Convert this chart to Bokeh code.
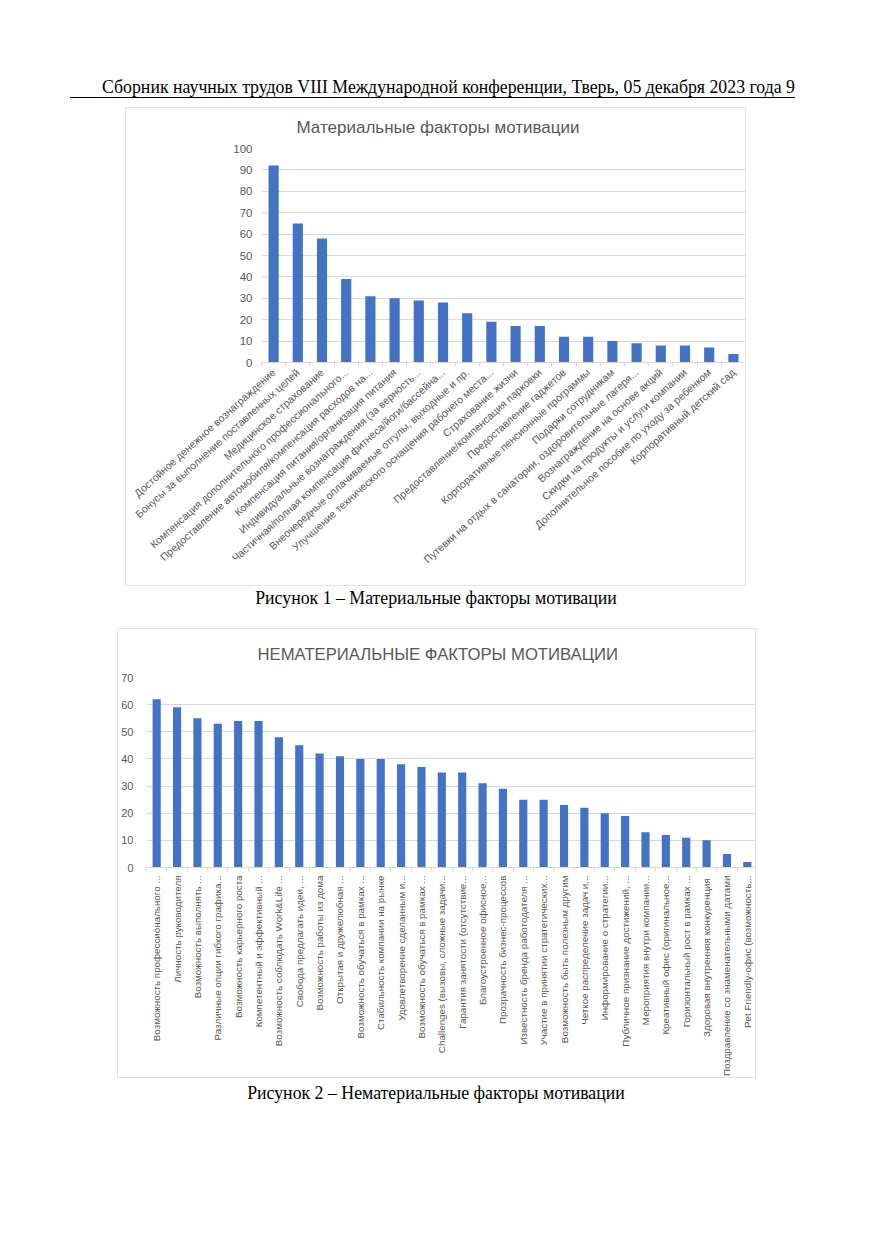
import math
from bokeh.plotting import figure
from bokeh.models import Div, Spacer, FixedTicker, Range1d, ColumnDataSource
from bokeh.layouts import column, row
from bokeh.embed import file_html
from bokeh.resources import INLINE

header_text = "Сборник научных трудов VIII Международной конференции, Тверь, 05 декабря 2023 года 9"
title1 = "Материальные факторы мотивации"
caption1 = "Рисунок 1 – Материальные факторы мотивации"
title2 = "НЕМАТЕРИАЛЬНЫЕ ФАКТОРЫ МОТИВАЦИИ"
caption2 = "Рисунок 2 – Нематериальные факторы мотивации"

material_labels = [
    "Достойное денежное вознаграждение",
    "Бонусы за выполнение поставленных целей",
    "Медицинское страхование",
    "Компенсация дополнительного профессионального...",
    "Предоставление автомобиля/компенсация расходов на...",
    "Компенсация питания/организация питания",
    "Индивидуальные вознаграждения (за верность...",
    "Частичная/полная компенсация фитнеса/йоги/бассейна...",
    "Внеочередные оплачиваемые отгулы, выходные и пр.",
    "Улучшение технического оснащения рабочего места...",
    "Страхование жизни",
    "Предоставление/компенсация парковки",
    "Предоставление гаджетов",
    "Корпоративные пенсионные программы",
    "Подарки сотрудникам",
    "Путевки на отдых в санатории, оздоровительные лагеря...",
    "Вознаграждение на основе акций",
    "Скидки на продукты и услуги компании",
    "Дополнительное пособие по уходу за ребенком",
    "Корпоративный детский сад",
]
material_values = [92, 65, 58, 39, 31, 30, 29, 28, 23, 19, 17, 17, 12, 12, 10, 9, 8, 8, 7, 4]
material_yticks = [0, 10, 20, 30, 40, 50, 60, 70, 80, 90, 100]

nonmaterial_labels = [
    "Возможность профессионального ...",
    "Личность руководителя",
    "Возможность выполнять ...",
    "Различные опции гибкого графика...",
    "Возможность карьерного роста",
    "Компетентный и эффективный ...",
    "Возможность соблюдать Work&Life ...",
    "Свобода предлагать идеи, ...",
    "Возможность работы из дома",
    "Открытая и дружелюбная ...",
    "Возможность обучаться в рамках ...",
    "Стабильность компании на рынке",
    "Удовлетворение сделанным и...",
    "Возможность обучаться в рамках ...",
    "Challenges (вызовы, сложные задачи...",
    "Гарантия занятости (отсутствие...",
    "Благоустроенное офисное...",
    "Прозрачность бизнес-процессов",
    "Известность бренда работодателя ...",
    "Участие в принятии стратегических...",
    "Возможность быть полезным другим",
    "Четкое распределение задач и...",
    "Информирование о стратегии...",
    "Публичное признание достижений, ...",
    "Мероприятия внутри компании...",
    "Креативный офис (оригинальное...",
    "Горизонтальный рост в рамках ...",
    "Здоровая внутренняя  конкуренция",
    "Поздравление со знаменательными датами",
    "Pet Friendly-офис (возможность...",
]
nonmaterial_values = [62, 59, 55, 53, 54, 54, 48, 45, 42, 41, 40, 40, 38, 37, 35, 35,
                      31, 29, 25, 25, 23, 22, 20, 19, 13, 12, 11, 10, 5, 2]
nonmaterial_yticks = [0, 10, 20, 30, 40, 50, 60, 70]

BAR = "#4472C4"
GRID = "#d9d9d9"
TXT = "#595959"
SANS = "Liberation Sans"
SERIF = "Liberation Serif"


def make_chart(labels, values, yticks, title, width, height, mb_left, mb_right, mb_top, mb_bottom,
               angle, xfont, yfont, ystandoff, bar_width, title_font, title_offset, title_standoff,
               title_valign):
    n = len(labels)
    idx = list(range(n))
    src = ColumnDataSource(dict(x=idx, top=values))
    p = figure(width=width, height=height, output_backend="svg", toolbar_location=None,
               x_range=Range1d(-0.5, n - 0.5), y_range=Range1d(yticks[0], yticks[-1]),
               min_border_left=mb_left, min_border_right=mb_right,
               min_border_top=mb_top, min_border_bottom=mb_bottom,
               title=title)
    p.vbar(x="x", top="top", bottom=0, width=bar_width, source=src,
           fill_color=BAR, line_color=None)
    p.outline_line_color = None
    p.background_fill_color = "white"
    p.border_fill_color = "white"
    p.styles = {"border": "1px solid #e3e3e3"}

    p.title.text_font = SANS
    p.title.text_font_size = title_font
    p.title.text_font_style = "normal"
    p.title.text_color = TXT
    p.title.align = "left"
    p.title.vertical_align = title_valign
    p.title.offset = title_offset
    p.title.standoff = title_standoff

    p.xgrid.grid_line_color = None
    p.ygrid.grid_line_color = GRID
    p.ygrid.ticker = FixedTicker(ticks=yticks)

    xa = p.xaxis[0]
    xa.ticker = FixedTicker(ticks=idx, minor_ticks=[i - 0.5 for i in range(n + 1)])
    xa.major_label_overrides = {i: lab for i, lab in enumerate(labels)}
    xa.major_label_orientation = angle
    xa.major_label_text_font = SANS
    xa.major_label_text_font_size = xfont
    xa.major_label_text_color = TXT
    xa.major_label_standoff = 4
    xa.axis_line_color = GRID
    xa.major_tick_line_color = None
    xa.major_tick_out = 0
    xa.major_tick_in = 0
    xa.minor_tick_line_color = GRID
    xa.minor_tick_out = 4
    xa.minor_tick_in = 0

    ya = p.yaxis[0]
    ya.ticker = FixedTicker(ticks=yticks)
    ya.axis_line_color = None
    ya.major_tick_line_color = None
    ya.minor_tick_line_color = None
    ya.major_tick_out = 0
    ya.major_tick_in = 0
    ya.major_label_standoff = ystandoff
    ya.major_label_text_font = SANS
    ya.major_label_text_font_size = yfont
    ya.major_label_text_color = TXT
    return p


p1 = make_chart(material_labels, material_values, material_yticks, title1,
                width=621, height=479, mb_left=135, mb_right=2, mb_top=39, mb_bottom=225,
                angle=math.radians(42), xfont="10.5px", yfont="11.5px", ystandoff=9,
                bar_width=0.42, title_font="17px", title_offset=35, title_standoff=19,
                title_valign="top")

p2 = make_chart(nonmaterial_labels, nonmaterial_values, nonmaterial_yticks, title2,
                width=639, height=450, mb_left=27, mb_right=0, mb_top=48, mb_bottom=208,
                angle=math.pi / 2, xfont="9.8px", yfont="11px", ystandoff=13,
                bar_width=0.4, title_font="16.7px", title_offset=111, title_standoff=26,
                title_valign="middle")

header = Div(width=872, height=107, margin=0, text=(
    f'<div style="margin-left:70px;width:725px;height:98px;box-sizing:border-box;'
    f'border-bottom:1.5px solid #000;display:flex;align-items:flex-end;justify-content:flex-end;'
    f'font-family:\'{SERIF}\';font-size:17.8px;line-height:19px;color:#000;padding-bottom:0px;">'
    f'{header_text}</div>'))

cap1 = Div(width=872, height=40, margin=0, text=(
    f'<div style="width:872px;text-align:center;font-family:\'{SERIF}\';font-size:17.8px;'
    f'line-height:20px;color:#000;padding-top:0px;">{caption1}</div>'))

cap2 = Div(width=872, height=40, margin=0, text=(
    f'<div style="width:872px;text-align:center;font-family:\'{SERIF}\';font-size:17.8px;'
    f'line-height:20px;color:#000;padding-top:3px;">{caption2}</div>'))

layout = column(
    header,
    row(Spacer(width=125, height=481), p1),
    cap1,
    row(Spacer(width=117, height=452), p2),
    cap2,
)

open("out.html", "w").write(file_html(layout, INLINE))
